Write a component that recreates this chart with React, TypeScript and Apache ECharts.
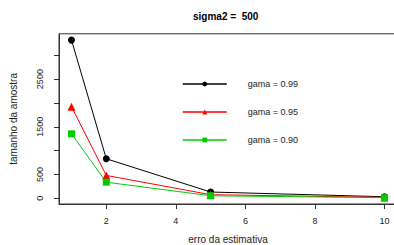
import React, { useEffect, useRef } from "react";
import * as echarts from "echarts";

const erros = [1, 2, 5, 10];
const gama99 = [3318, 830, 133, 34];
const gama95 = [1921, 481, 77, 20];
const gama90 = [1353, 339, 55, 14];
const seriesNames = ["gama = 0.99", "gama = 0.95", "gama = 0.90"];
const xTicks = [2, 4, 6, 8, 10];
const yTicks = [0, 500, 1000, 1500, 2000, 2500, 3000];
const yLabels = [0, 500, 1500, 2500];

const font = "Liberation Sans, Arial, sans-serif";

export default function App() {
  const ref = useRef<HTMLDivElement>(null);
  useEffect(() => {
    const chart = echarts.init(ref.current!, null, { renderer: "svg" });
    const mk = (name: string, data: number[], color: string, symbol: string, size: number) => ({
      name,
      type: "line",
      data: erros.map((e, i) => [e, data[i]]),
      symbol,
      symbolSize: size,
      itemStyle: { color },
      lineStyle: { color, width: 1 },
    });
    chart.setOption({
      animation: false,
      title: {
        text: "sigma2 =  500",
        left: 188,
        top: 6,
        textStyle: { fontFamily: font, fontSize: 10, fontWeight: "bold", color: "#000" },
      },
      grid: {
        left: 59,
        top: 33.8,
        right: -3,
        bottom: 41,
        outerBoundsMode: "none",
        containLabel: false,
        show: true,
        borderColor: "#333",
        borderWidth: 1,
      },
      legend: {
        orient: "vertical",
        left: 182,
        top: 79.5,
        padding: 0,
        itemWidth: 44,
        itemHeight: 6,
        itemGap: 19,
        data: seriesNames,
        lineStyle: { width: 1.5 },
        textStyle: { fontFamily: font, fontSize: 9, color: "#222", padding: [0, 0, 0, 16] },
      },
      xAxis: {
        type: "value",
        min: 0.64,
        max: 10.36,
        name: "erro da estimativa",
        nameLocation: "middle",
        nameGap: 30,
        nameTextStyle: { fontFamily: font, fontSize: 10, color: "#222" },
        splitLine: { show: false },
        axisLine: { show: true, onZero: false, lineStyle: { color: "#333" } },
        axisTick: { show: true, length: 5, customValues: xTicks, lineStyle: { color: "#333" } },
        axisLabel: { customValues: xTicks, fontFamily: font, fontSize: 9, color: "#222", margin: 12 },
      },
      yAxis: {
        type: "value",
        min: -118,
        max: 3450,
        name: "tamanho da amostra",
        nameLocation: "middle",
        nameGap: 41,
        nameTextStyle: { fontFamily: font, fontSize: 10, color: "#222" },
        splitLine: { show: false },
        axisLine: { show: true, lineStyle: { color: "#333" } },
        axisTick: { show: true, length: 5, customValues: yTicks, lineStyle: { color: "#333" } },
        axisLabel: {
          customValues: yLabels,
          formatter: (v: number) => String(v),
          rotate: 90,
          fontFamily: font,
          fontSize: 9,
          color: "#222",
          margin: 15,
        },
      },
      series: [
        mk(seriesNames[0], gama99, "#000000", "circle", 7),
        mk(seriesNames[1], gama95, "#ff0000", "triangle", 8),
        mk(seriesNames[2], gama90, "#00cd00", "rect", 7),
      ],
    });
    return () => chart.dispose();
  }, []);
  return (
    <div
      ref={ref}
      style={{ position: "absolute", left: 0, top: 0, width: 394, height: 245, background: "#fff" }}
    />
  );
}
